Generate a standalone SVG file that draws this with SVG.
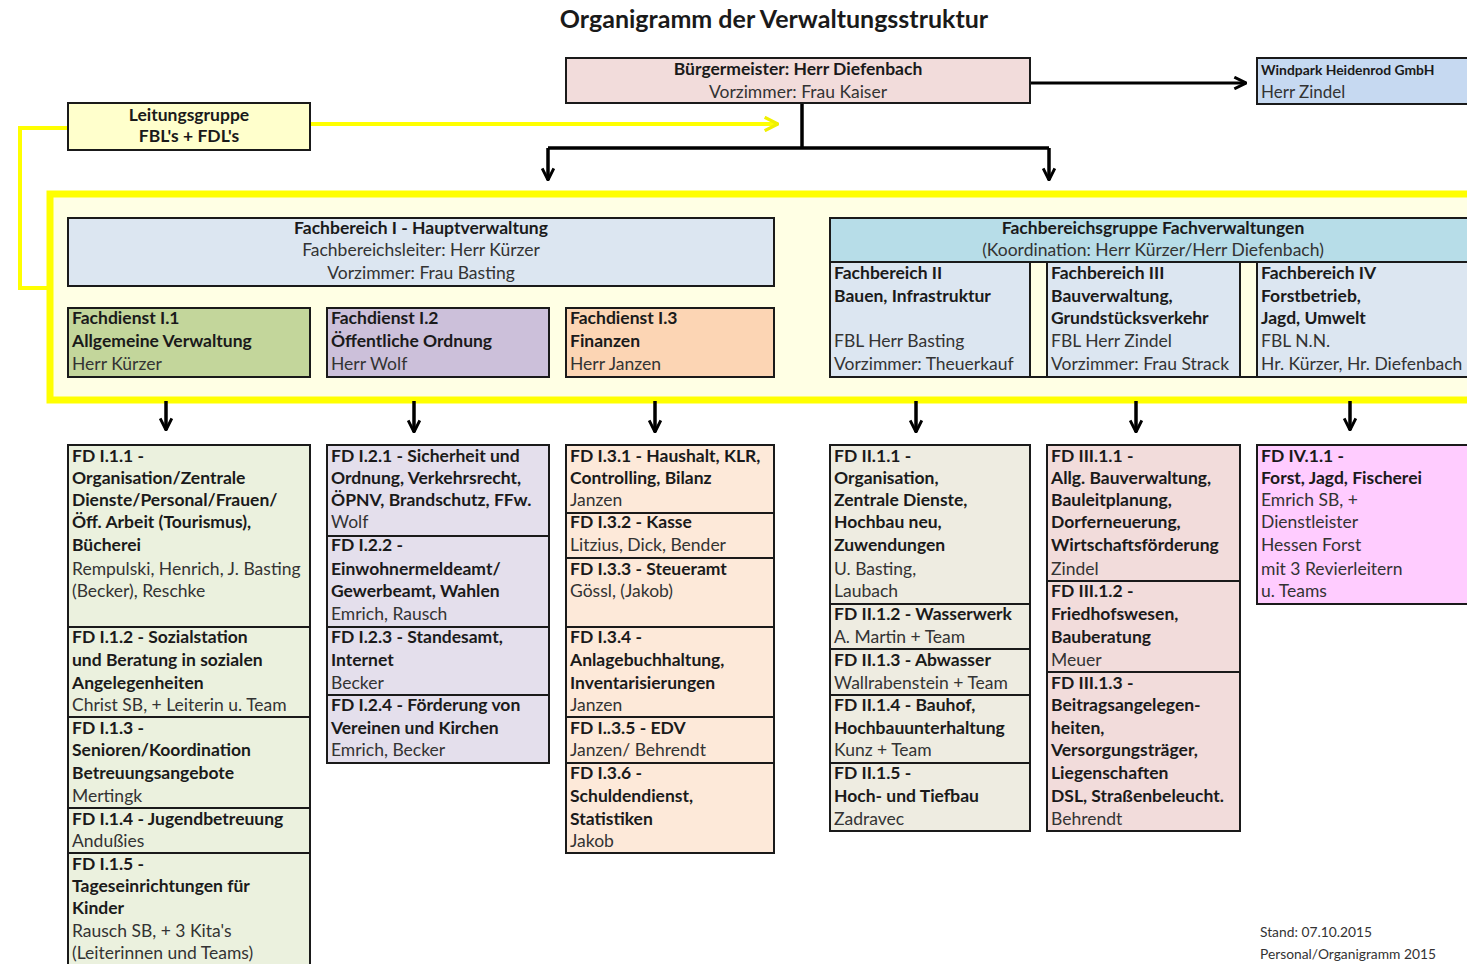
<svg xmlns="http://www.w3.org/2000/svg" width="1467" height="964" viewBox="0 0 1467 964">
<defs>
<style>
text{font-family:Lato,"Open Sans",sans-serif;font-size:17.5px;fill:#1a1a1a}
.b{font-weight:bold}
.n{fill:#333}
.m{text-anchor:middle}
.box{stroke:#1a1a1a;stroke-width:2}
.con{fill:none;stroke:#000;stroke-width:3.5}
.yel{fill:none;stroke:#ffff00;stroke-width:4}
</style>
<marker id="ah" viewBox="0 0 12 12" refX="11" refY="6" markerWidth="14" markerHeight="14" markerUnits="userSpaceOnUse" orient="auto">
<path d="M1,1 L11,6 L1,11" fill="none" stroke="#000" stroke-width="2.5"/>
</marker>
<marker id="ahy" viewBox="0 0 12 12" refX="11" refY="6" markerWidth="16" markerHeight="16" markerUnits="userSpaceOnUse" orient="auto">
<path d="M1,1 L11,6 L1,11" fill="none" stroke="#f0f000" stroke-width="2.5"/>
</marker>
</defs>
<rect width="1467" height="964" fill="#fff"/>
<text x="774" y="28" class="b m" style="font-size:25px">Organigramm der Verwaltungsstruktur</text>

<g id="container-yellow">
<rect x="50" y="194" width="1430" height="206" fill="#ffffe4" stroke="#ffff00" stroke-width="7"/>
</g>

<g id="connectors">
<path class="yel" d="M310,124 L778,124" marker-end="url(#ahy)"/>
<path class="yel" d="M68,128 L20,128 L20,288 L50,288"/>
<path class="con" d="M802,103 L802,148"/>
<path class="con" d="M548,148 L1049,148"/>
<path class="con" d="M548,148 L548,180" marker-end="url(#ah)"/>
<path class="con" d="M1049,148 L1049,180" marker-end="url(#ah)"/>
<path class="con" style="stroke-width:3" d="M1030,83 L1246,83" marker-end="url(#ah)"/>
<path class="con" d="M166,401 L166,430" marker-end="url(#ah)"/>
<path class="con" d="M414,401 L414,432" marker-end="url(#ah)"/>
<path class="con" d="M655,401 L655,432" marker-end="url(#ah)"/>
<path class="con" d="M916,401 L916,432" marker-end="url(#ah)"/>
<path class="con" d="M1136,401 L1136,432" marker-end="url(#ah)"/>
<path class="con" d="M1350,401 L1350,430" marker-end="url(#ah)"/>
</g>

<g id="buergermeister">
<rect class="box" x="566" y="58" width="464" height="45" fill="#f2dcdb"/>
<text x="798" y="75" class="b m">Bürgermeister: Herr Diefenbach</text>
<text x="798" y="98" class="n m">Vorzimmer: Frau Kaiser</text>
</g>

<g id="windpark">
<rect class="box" x="1257" y="58" width="215" height="46" fill="#c6d9f1"/>
<text x="1261" y="75" class="b" style="font-size:13.9px">Windpark Heidenrod GmbH</text>
<text x="1261" y="98" class="n" style="font-size:17px">Herr Zindel</text>
</g>

<g id="leitungsgruppe">
<rect class="box" x="68" y="103" width="242" height="47" fill="#ffffcc"/>
<text x="189" y="121" class="b m">Leitungsgruppe</text>
<text x="189" y="142" class="b m">FBL's + FDL's</text>
</g>

<g id="fb1">
<rect class="box" x="68" y="218" width="706" height="68" fill="#dce6f1"/>
<text x="421" y="234" class="b m">Fachbereich I - Hauptverwaltung</text>
<text x="421" y="256" class="n m">Fachbereichsleiter: Herr Kürzer</text>
<text x="421" y="279" class="n m">Vorzimmer: Frau Basting</text>
</g>

<g id="fd-i1">
<rect class="box" x="68" y="308" width="242" height="69" fill="#c3d69b"/>
<text x="72" y="324" class="b">Fachdienst I.1</text>
<text x="72" y="347" class="b">Allgemeine Verwaltung</text>
<text x="72" y="370" class="n">Herr Kürzer</text>
</g>
<g id="fd-i2">
<rect class="box" x="327" y="308" width="222" height="69" fill="#ccc0da"/>
<text x="331" y="324" class="b">Fachdienst I.2</text>
<text x="331" y="347" class="b">Öffentliche Ordnung</text>
<text x="331" y="370" class="n">Herr Wolf</text>
</g>
<g id="fd-i3">
<rect class="box" x="566" y="308" width="208" height="69" fill="#fcd5b4"/>
<text x="570" y="324" class="b">Fachdienst I.3</text>
<text x="570" y="347" class="b">Finanzen</text>
<text x="570" y="370" class="n">Herr Janzen</text>
</g>

<g id="fbgruppe">
<rect class="box" x="830" y="218" width="645" height="159" fill="#ffffe4"/>
<rect class="box" x="830" y="218" width="645" height="44" fill="#b7dde8"/>
<text x="1153" y="234" class="b m">Fachbereichsgruppe Fachverwaltungen</text>
<text x="1153" y="256" class="n m">(Koordination: Herr Kürzer/Herr Diefenbach)</text>
</g>
<g id="fb2">
<rect class="box" x="830" y="262" width="200" height="115" fill="#dce6f1"/>
<text x="834" y="279" class="b">Fachbereich II</text>
<text x="834" y="302" class="b">Bauen, Infrastruktur</text>
<text x="834" y="347" class="n">FBL Herr Basting</text>
<text x="834" y="370" class="n">Vorzimmer: Theuerkauf</text>
</g>
<g id="fb3">
<rect class="box" x="1047" y="262" width="193" height="115" fill="#dce6f1"/>
<text x="1051" y="279" class="b">Fachbereich III</text>
<text x="1051" y="302" class="b">Bauverwaltung,</text>
<text x="1051" y="324" class="b">Grundstücksverkehr</text>
<text x="1051" y="347" class="n">FBL Herr Zindel</text>
<text x="1051" y="370" class="n">Vorzimmer: Frau Strack</text>
</g>
<g id="fb4">
<rect class="box" x="1257" y="262" width="218" height="115" fill="#dce6f1"/>
<text x="1261" y="279" class="b">Fachbereich IV</text>
<text x="1261" y="302" class="b">Forstbetrieb,</text>
<text x="1261" y="324" class="b">Jagd, Umwelt</text>
<text x="1261" y="347" class="n">FBL N.N.</text>
<text x="1261" y="370" class="n">Hr. Kürzer, Hr. Diefenbach</text>
</g>

<g id="col-i1">
<g id="fd-i11">
<rect class="box" x="68" y="445" width="242" height="182" fill="#ebf1de"/>
<text x="72" y="462" class="b">FD I.1.1 -</text>
<text x="72" y="484" class="b">Organisation/Zentrale</text>
<text x="72" y="506" class="b">Dienste/Personal/Frauen/</text>
<text x="72" y="528" class="b">Öff. Arbeit (Tourismus),</text>
<text x="72" y="551" class="b">Bücherei</text>
<text x="72" y="575" class="n">Rempulski, Henrich, J. Basting</text>
<text x="72" y="597" class="n">(Becker), Reschke</text>
</g>
<g id="fd-i12">
<rect class="box" x="68" y="627" width="242" height="90" fill="#ebf1de"/>
<text x="72" y="643" class="b">FD I.1.2 - Sozialstation</text>
<text x="72" y="666" class="b">und Beratung in sozialen</text>
<text x="72" y="689" class="b">Angelegenheiten</text>
<text x="72" y="711" class="n">Christ SB, + Leiterin u. Team</text>
</g>
<g id="fd-i13">
<rect class="box" x="68" y="717" width="242" height="91" fill="#ebf1de"/>
<text x="72" y="734" class="b">FD I.1.3 -</text>
<text x="72" y="756" class="b">Senioren/Koordination</text>
<text x="72" y="779" class="b">Betreuungsangebote</text>
<text x="72" y="802" class="n">Mertingk</text>
</g>
<g id="fd-i14">
<rect class="box" x="68" y="808" width="242" height="45" fill="#ebf1de"/>
<text x="72" y="825" class="b">FD I.1.4 - Jugendbetreuung</text>
<text x="72" y="847" class="n">Andußies</text>
</g>
<g id="fd-i15">
<rect class="box" x="68" y="853" width="242" height="120" fill="#ebf1de"/>
<text x="72" y="870" class="b">FD I.1.5 -</text>
<text x="72" y="892" class="b">Tageseinrichtungen für</text>
<text x="72" y="914" class="b">Kinder</text>
<text x="72" y="937" class="n">Rausch SB, + 3 Kita's</text>
<text x="72" y="959" class="n">(Leiterinnen und Teams)</text>
</g>
</g>

<g id="col-i2">
<g id="fd-i21">
<rect class="box" x="327" y="445" width="222" height="91" fill="#e4dfec"/>
<text x="331" y="462" class="b">FD I.2.1 - Sicherheit und</text>
<text x="331" y="484" class="b">Ordnung, Verkehrsrecht,</text>
<text x="331" y="506" class="b">ÖPNV, Brandschutz, FFw.</text>
<text x="331" y="528" class="n">Wolf</text>
</g>
<g id="fd-i22">
<rect class="box" x="327" y="536" width="222" height="91" fill="#e4dfec"/>
<text x="331" y="551" class="b">FD I.2.2 -</text>
<text x="331" y="575" class="b">Einwohnermeldeamt/</text>
<text x="331" y="597" class="b">Gewerbeamt, Wahlen</text>
<text x="331" y="620" class="n">Emrich, Rausch</text>
</g>
<g id="fd-i23">
<rect class="box" x="327" y="627" width="222" height="68" fill="#e4dfec"/>
<text x="331" y="643" class="b">FD I.2.3 - Standesamt,</text>
<text x="331" y="666" class="b">Internet</text>
<text x="331" y="689" class="n">Becker</text>
</g>
<g id="fd-i24">
<rect class="box" x="327" y="695" width="222" height="68" fill="#e4dfec"/>
<text x="331" y="711" class="b">FD I.2.4 - Förderung von</text>
<text x="331" y="734" class="b">Vereinen und Kirchen</text>
<text x="331" y="756" class="n">Emrich, Becker</text>
</g>
</g>

<g id="col-i3">
<g id="fd-i31">
<rect class="box" x="566" y="445" width="208" height="68" fill="#fde9d9"/>
<text x="570" y="462" class="b">FD I.3.1 - Haushalt, KLR,</text>
<text x="570" y="484" class="b">Controlling, Bilanz</text>
<text x="570" y="506" class="n">Janzen</text>
</g>
<g id="fd-i32">
<rect class="box" x="566" y="513" width="208" height="45" fill="#fde9d9"/>
<text x="570" y="528" class="b">FD I.3.2 - Kasse</text>
<text x="570" y="551" class="n">Litzius, Dick, Bender</text>
</g>
<g id="fd-i33">
<rect class="box" x="566" y="558" width="208" height="69" fill="#fde9d9"/>
<text x="570" y="575" class="b">FD I.3.3 - Steueramt</text>
<text x="570" y="597" class="n">Gössl, (Jakob)</text>
</g>
<g id="fd-i34">
<rect class="box" x="566" y="627" width="208" height="90" fill="#fde9d9"/>
<text x="570" y="643" class="b">FD I.3.4 -</text>
<text x="570" y="666" class="b">Anlagebuchhaltung,</text>
<text x="570" y="689" class="b">Inventarisierungen</text>
<text x="570" y="711" class="n">Janzen</text>
</g>
<g id="fd-i35">
<rect class="box" x="566" y="717" width="208" height="46" fill="#fde9d9"/>
<text x="570" y="734" class="b">FD I..3.5 - EDV</text>
<text x="570" y="756" class="n">Janzen/ Behrendt</text>
</g>
<g id="fd-i36">
<rect class="box" x="566" y="763" width="208" height="90" fill="#fde9d9"/>
<text x="570" y="779" class="b">FD I.3.6 -</text>
<text x="570" y="802" class="b">Schuldendienst,</text>
<text x="570" y="825" class="b">Statistiken</text>
<text x="570" y="847" class="n">Jakob</text>
</g>
</g>

<g id="col-ii">
<g id="fd-ii11">
<rect class="box" x="830" y="445" width="200" height="159" fill="#eeece1"/>
<text x="834" y="462" class="b">FD II.1.1 -</text>
<text x="834" y="484" class="b">Organisation,</text>
<text x="834" y="506" class="b">Zentrale Dienste,</text>
<text x="834" y="528" class="b">Hochbau neu,</text>
<text x="834" y="551" class="b">Zuwendungen</text>
<text x="834" y="575" class="n">U. Basting,</text>
<text x="834" y="597" class="n">Laubach</text>
</g>
<g id="fd-ii12">
<rect class="box" x="830" y="604" width="200" height="45" fill="#eeece1"/>
<text x="834" y="620" class="b">FD II.1.2 - Wasserwerk</text>
<text x="834" y="643" class="n">A. Martin + Team</text>
</g>
<g id="fd-ii13">
<rect class="box" x="830" y="649" width="200" height="46" fill="#eeece1"/>
<text x="834" y="666" class="b">FD II.1.3 - Abwasser</text>
<text x="834" y="689" class="n">Wallrabenstein + Team</text>
</g>
<g id="fd-ii14">
<rect class="box" x="830" y="695" width="200" height="68" fill="#eeece1"/>
<text x="834" y="711" class="b">FD II.1.4 - Bauhof,</text>
<text x="834" y="734" class="b">Hochbauunterhaltung</text>
<text x="834" y="756" class="n">Kunz + Team</text>
</g>
<g id="fd-ii15">
<rect class="box" x="830" y="763" width="200" height="68" fill="#eeece1"/>
<text x="834" y="779" class="b">FD II.1.5 -</text>
<text x="834" y="802" class="b">Hoch- und Tiefbau</text>
<text x="834" y="825" class="n">Zadravec</text>
</g>
</g>

<g id="col-iii">
<g id="fd-iii11">
<rect class="box" x="1047" y="445" width="193" height="136" fill="#f2dcdb"/>
<text x="1051" y="462" class="b">FD III.1.1 -</text>
<text x="1051" y="484" class="b">Allg. Bauverwaltung,</text>
<text x="1051" y="506" class="b">Bauleitplanung,</text>
<text x="1051" y="528" class="b">Dorferneuerung,</text>
<text x="1051" y="551" class="b">Wirtschaftsförderung</text>
<text x="1051" y="575" class="n">Zindel</text>
</g>
<g id="fd-iii12">
<rect class="box" x="1047" y="581" width="193" height="91" fill="#f2dcdb"/>
<text x="1051" y="597" class="b">FD III.1.2 -</text>
<text x="1051" y="620" class="b">Friedhofswesen,</text>
<text x="1051" y="643" class="b">Bauberatung</text>
<text x="1051" y="666" class="n">Meuer</text>
</g>
<g id="fd-iii13">
<rect class="box" x="1047" y="672" width="193" height="159" fill="#f2dcdb"/>
<text x="1051" y="689" class="b">FD III.1.3 -</text>
<text x="1051" y="711" class="b">Beitragsangelegen-</text>
<text x="1051" y="734" class="b">heiten,</text>
<text x="1051" y="756" class="b">Versorgungsträger,</text>
<text x="1051" y="779" class="b">Liegenschaften</text>
<text x="1051" y="802" class="b">DSL, Straßenbeleucht.</text>
<text x="1051" y="825" class="n">Behrendt</text>
</g>
</g>

<g id="fd-iv11">
<rect class="box" x="1257" y="445" width="218" height="159" fill="#ffccff"/>
<text x="1261" y="462" class="b">FD IV.1.1 -</text>
<text x="1261" y="484" class="b">Forst, Jagd, Fischerei</text>
<text x="1261" y="506" class="n">Emrich SB, +</text>
<text x="1261" y="528" class="n">Dienstleister</text>
<text x="1261" y="551" class="n">Hessen Forst</text>
<text x="1261" y="575" class="n">mit 3 Revierleitern</text>
<text x="1261" y="597" class="n">u. Teams</text>
</g>

<g id="footer">
<text x="1260" y="937" class="n" style="font-size:13.8px">Stand: 07.10.2015</text>
<text x="1260" y="959" class="n" style="font-size:13.8px">Personal/Organigramm 2015</text>
</g>
</svg>
